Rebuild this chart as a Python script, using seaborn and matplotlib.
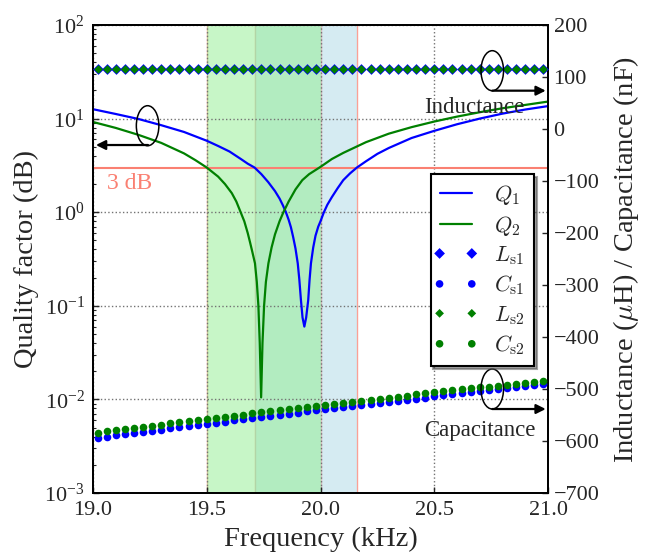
import matplotlib
matplotlib.use("Agg")
import matplotlib.pyplot as plt
import seaborn as sns
from matplotlib.patches import Ellipse
from matplotlib.collections import PathCollection
from matplotlib.legend_handler import HandlerPathCollection

# ---- quality factors (dB) of the two resonators ----
q1_freq = [19.00, 19.10, 19.20, 19.30, 19.40, 19.50, 19.55, 19.60, 19.65, 19.68,
           19.71, 19.74, 19.77, 19.80, 19.82, 19.835, 19.848, 19.86, 19.87, 19.88,
           19.89, 19.90, 19.907, 19.914, 19.921, 19.929, 19.937, 19.946, 19.952, 19.958,
           19.968, 19.978, 19.99, 20.00, 20.015, 20.03, 20.05, 20.075, 20.10, 20.13,
           20.16, 20.20, 20.25, 20.30, 20.40, 20.50, 20.60, 20.70, 20.80, 20.90,
           21.00]
q1_val = [12.6, 11.2, 9.9, 8.5, 7.2, 5.8, 5.1, 4.45, 3.7, 3.3,
          3.0, 2.55, 2.1, 1.68, 1.4, 1.18, 1.0, 0.83, 0.69, 0.54,
          0.41, 0.284, 0.19, 0.115, 0.075, 0.06, 0.075, 0.115, 0.19, 0.284,
          0.42, 0.56, 0.7, 0.8, 1.0, 1.2, 1.45, 1.8, 2.2, 2.6,
          3.0, 3.5, 4.2, 4.85, 6.2, 7.4, 8.7, 10.0, 11.3, 12.5,
          13.6]

q2_freq = [19.00, 19.10, 19.20, 19.30, 19.40, 19.45, 19.50, 19.55, 19.58, 19.61,
           19.63, 19.649, 19.665, 19.68, 19.69, 19.70, 19.712, 19.72, 19.727, 19.733,
           19.739, 19.745, 19.752, 19.76, 19.771, 19.785, 19.80, 19.82, 19.837, 19.86,
           19.89, 19.92, 19.95, 20.00, 20.05, 20.10, 20.20, 20.30, 20.40, 20.50,
           20.60, 20.70, 20.80, 20.90, 21.00]
q2_val = [9.2, 7.95, 6.7, 5.5, 4.25, 3.6, 3.0, 2.4, 2.0, 1.6,
          1.3, 1.0, 0.8, 0.6, 0.48, 0.38, 0.284, 0.18, 0.10, 0.04,
          0.0105, 0.04, 0.10, 0.18, 0.284, 0.42, 0.58, 0.8, 1.0, 1.3,
          1.75, 2.2, 2.55, 3.05, 3.7, 4.3, 5.6, 6.9, 8.1, 9.3,
          10.5, 11.7, 12.9, 14.0, 15.2]

# ---- extracted series elements ----
elem_freq = [19.02, 19.06, 19.10, 19.14, 19.18, 19.22, 19.26, 19.30, 19.34, 19.38,
             19.42, 19.46, 19.50, 19.54, 19.58, 19.62, 19.66, 19.70, 19.74, 19.78,
             19.82, 19.86, 19.90, 19.94, 19.98, 20.02, 20.06, 20.10, 20.14, 20.18,
             20.22, 20.26, 20.30, 20.34, 20.38, 20.42, 20.46, 20.50, 20.54, 20.58,
             20.62, 20.66, 20.70, 20.74, 20.78, 20.82, 20.86, 20.90, 20.94, 20.98]
ls1 = [115, 115, 115, 115, 115, 115, 115, 115, 115, 115,
       115, 115, 115, 115, 115, 115, 115, 115, 115, 115,
       115, 115, 115, 115, 115, 115, 115, 115, 115, 115,
       115, 115, 115, 115, 115, 115, 115, 115, 115, 115,
       115, 115, 115, 115, 115, 115, 115, 115, 115, 115]
ls2 = [115, 115, 115, 115, 115, 115, 115, 115, 115, 115,
       115, 115, 115, 115, 115, 115, 115, 115, 115, 115,
       115, 115, 115, 115, 115, 115, 115, 115, 115, 115,
       115, 115, 115, 115, 115, 115, 115, 115, 115, 115,
       115, 115, 115, 115, 115, 115, 115, 115, 115, 115]
cs1 = [-593.9, -591.5, -589.3, -587.0, -584.7, -582.5, -580.2, -578.0, -575.7, -573.5,
       -571.3, -569.1, -566.9, -564.7, -562.5, -560.3, -558.1, -556.0, -553.8, -551.6,
       -549.6, -547.4, -545.3, -543.2, -541.0, -539.0, -536.9, -534.8, -532.7, -530.6,
       -528.6, -526.5, -524.5, -522.5, -520.4, -518.4, -516.4, -514.4, -512.4, -510.4,
       -508.5, -506.4, -504.5, -502.6, -500.6, -498.7, -496.7, -494.8, -492.9, -490.9]
cs2 = [-583.9, -581.6, -579.4, -577.2, -575.0, -572.8, -570.6, -568.4, -566.2, -564.1,
       -561.9, -559.8, -557.6, -555.5, -553.4, -551.2, -549.1, -547.0, -544.9, -542.8,
       -540.8, -538.7, -536.6, -534.6, -532.5, -530.5, -528.5, -526.4, -524.4, -522.4,
       -520.4, -518.4, -516.4, -514.5, -512.5, -510.5, -508.6, -506.6, -504.7, -502.8,
       -500.9, -498.9, -497.0, -495.2, -493.3, -491.4, -489.5, -487.6, -485.8, -483.9]

# 3 dB bandwidth edges (kHz)
band_q1 = [19.71, 20.16]
band_q2 = [19.50, 20.00]
level_db = 3.0

sns.set_style("ticks")
plt.rcParams.update({
    "font.family": ["Liberation Serif", "DejaVu Serif"],
    "mathtext.fontset": "stix",
    "axes.unicode_minus": True,
    "xtick.direction": "in",
    "ytick.direction": "in",
    "axes.edgecolor": "black",
    "axes.linewidth": 1.3,
})

fig = plt.figure(figsize=(6.48, 5.55), dpi=100)
ax = fig.add_axes([93 / 648, 1 - 493 / 555, 455 / 648, 468 / 555])
ax2 = ax.twinx()

# bandwidth shading and edge markers
for x in band_q1 + band_q2:
    ax.axvline(x, color="salmon", lw=1.0, alpha=0.75, zorder=0.3)
ax.axvspan(*band_q1, color="lightblue", alpha=0.5, lw=0, zorder=0.5)
ax.axvspan(*band_q2, color="lightgreen", alpha=0.5, lw=0, zorder=0.6)
ax.set_axisbelow("line")
ax.grid(True, which="major", ls=":", color="0.45", lw=1)
ax.axhline(level_db, color="salmon", lw=1.5, zorder=1.8)
ax.text(19.06, 2.05, "3 dB", color="salmon", fontsize=17, va="center", ha="left")

sns.lineplot(x=q1_freq, y=q1_val, ax=ax, color="blue", lw=1.6, label="$Q_1$", zorder=3)
sns.lineplot(x=q2_freq, y=q2_val, ax=ax, color="green", lw=1.6, label="$Q_2$", zorder=3)
ax.set_yscale("log")
ax.set_xlim(19.0, 21.0)
ax.set_ylim(1e-3, 1e2)
ax.set_xticks([19.0, 19.5, 20.0, 20.5, 21.0])
ax.set_xticklabels(["19.0", "19.5", "20.0", "20.5", "21.0"])
ax.tick_params(which="major", length=4, width=1, labelsize=16, pad=6)
ax.tick_params(which="minor", length=2.5, width=0.8)
ax.set_xlabel("Frequency (kHz)", fontsize=20.5, labelpad=5)
ax.set_ylabel("Quality factor (dB)", fontsize=20.5, labelpad=4)

sns.scatterplot(x=elem_freq, y=ls1, ax=ax2, marker="D", s=30, color="blue",
                linewidth=0, label=r"$L_{\rm s1}$", zorder=4)
sns.scatterplot(x=elem_freq, y=cs1, ax=ax2, marker="o", s=30, color="blue",
                linewidth=0, label=r"$C_{\rm s1}$", zorder=4)
sns.scatterplot(x=elem_freq, y=ls2, ax=ax2, marker="D", s=20, color="green",
                linewidth=0, label=r"$L_{\rm s2}$", zorder=4)
sns.scatterplot(x=elem_freq, y=cs2, ax=ax2, marker="o", s=30, color="green",
                linewidth=0, label=r"$C_{\rm s2}$", zorder=4)
ax2.set_ylim(-700, 200)
ax2.set_yticks(list(range(-700, 201, 100)))
ax2.tick_params(length=4, width=1, labelsize=16, pad=4)
ax2.set_ylabel(r"Inductance ($\mu$H) / Capacitance (nF)", fontsize=20.5,
               labelpad=8, math_fontfamily="cm")

# axis-pointer callouts
for cx, cy in [(19.24, 6.3), (20.755, 112.1), (20.755, -500.0)]:
    ax2.add_patch(Ellipse((cx, cy), 0.099, 77, fill=False, ec="black", lw=1.1, zorder=6))
arrow = dict(arrowstyle="-|>", color="black", lw=1.6, shrinkA=0, shrinkB=0, mutation_scale=14)
ax2.annotate("", xy=(19.013, -30.8), xytext=(19.242, -30.8), arrowprops=arrow, zorder=6)
ax2.annotate("", xy=(20.99, 73.7), xytext=(20.755, 73.7), arrowprops=arrow, zorder=6)
ax2.annotate("", xy=(20.99, -538.5), xytext=(20.755, -538.5), arrowprops=arrow, zorder=6)
ax2.text(20.675, 41, "Inductance", fontsize=16.5, ha="center", va="center", zorder=6)
ax2.text(20.702, -580, "Capacitance", fontsize=16.5, ha="center", va="center", zorder=6)

# combined legend
h1, l1 = ax.get_legend_handles_labels()
h2, l2 = ax2.get_legend_handles_labels()
if ax.get_legend() is not None:
    ax.get_legend().remove()
if ax2.get_legend() is not None:
    ax2.get_legend().remove()
leg = ax2.legend(h1 + h2, l1 + l2, loc="upper right", bbox_to_anchor=(0.969, 0.6816),
                 borderaxespad=0, frameon=True, fancybox=False, shadow=True,
                 framealpha=1, fontsize=16, handlelength=1.45, handletextpad=1.0,
                 labelspacing=0.3, borderpad=0.4, scatterpoints=2,
                 scatteryoffsets=[0.5],
                 handler_map={PathCollection: HandlerPathCollection(marker_pad=0)})
leg.get_frame().set_edgecolor("black")
leg.get_frame().set_linewidth(1.5)
leg.set_zorder(10)
for t in leg.get_texts():
    t.set_math_fontfamily("cm")

fig.savefig("out.png", dpi=100, facecolor="white")
